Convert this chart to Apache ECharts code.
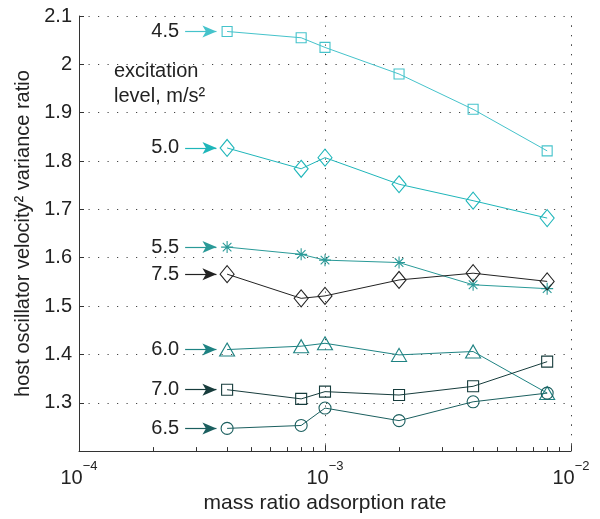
<!DOCTYPE html>
<html>
<head>
<meta charset="utf-8">
<script src="https://cdn.jsdelivr.net/npm/echarts@6/dist/echarts.min.js"></script>
<style>html,body{margin:0;padding:0;background:#fff}#c{width:600px;height:519px}</style>
</head>
<body>
<div id="c"></div>
<script>
// ---- data ----
const xValues = [4e-4, 8e-4, 1e-3, 2e-3, 4e-3, 8e-3];
const lvl45 = [2.068, 2.055, 2.035, 1.980, 1.907, 1.821];
const lvl50 = [1.827, 1.784, 1.807, 1.752, 1.718, 1.682];
const lvl55 = [1.622, 1.607, 1.595, 1.590, 1.544, 1.536];
const lvl60 = [1.410, 1.417, 1.423, 1.399, 1.406, 1.320];
const lvl65 = [1.247, 1.253, 1.289, 1.263, 1.302, 1.320];
const lvl70 = [1.327, 1.308, 1.323, 1.316, 1.334, 1.385];
const lvl75 = [1.566, 1.516, 1.521, 1.554, 1.568, 1.551];
const levelNames = ['4.5', '5.0', '5.5', '6.0', '6.5', '7.0', '7.5'];
const yMin = 1.2, yMax = 2.1, yStep = 0.1;
const xMin = 1e-4, xMax = 1e-2;

const FONT = '"Liberation Sans", Arial, Helvetica, sans-serif';
const TXT = '#222';
const asterisk = 'path://M0,-1L0,1M-1,0L1,0M-0.72,-0.72L0.72,0.72M-0.72,0.72L0.72,-0.72';

const styles = [
  {v: lvl45, color: '#45c3cb', symbol: 'rect', size: 10},
  {v: lvl50, color: '#1fb6ba', symbol: 'diamond', size: [14, 17]},
  {v: lvl55, color: '#2a9a98', symbol: asterisk, size: 12},
  {v: lvl60, color: '#1e8282', symbol: 'triangle', size: [15, 13]},
  {v: lvl65, color: '#1b5f5f', symbol: 'circle', size: 12},
  {v: lvl70, color: '#173c3c', symbol: 'rect', size: 11},
  {v: lvl75, color: '#222222', symbol: 'diamond', size: [14, 17]}
];

const arrowFrom = 2.7e-4, arrowTo = 3.62e-4;

// minor tick positions for the log axis (log10 space)
const minorTicks = [];
for (let d = -4; d < -2; d++) for (let k = 2; k <= 9; k++) minorTicks.push(d + Math.log10(k));

const series = styles.map((s, i) => ({
  type: 'line',
  name: levelNames[i],
  xAxisIndex: 0,
  data: xValues.map((x, j) => [x, s.v[j]]),
  symbol: s.symbol,
  symbolSize: s.size,
  showAllSymbol: true,
  lineStyle: {color: s.color, width: 1},
  itemStyle: {color: 'transparent', borderColor: s.color, borderWidth: 1.1},
  emphasis: {disabled: true},
  animation: false,
  markLine: {
    silent: true,
    animation: false,
    symbol: ['none', 'arrow'],
    symbolSize: [9, 14],
    lineStyle: {color: s.color, width: 1.2, type: 'solid'},
    label: {show: true, position: 'start', distance: 6, formatter: levelNames[i],
            color: TXT, fontSize: 20, fontFamily: FONT},
    data: [[{coord: [arrowFrom, s.v[0]]}, {coord: [arrowTo, s.v[0]]}]]
  }
}));

const chart = echarts.init(document.getElementById('c'), null, {renderer: 'canvas'});
chart.setOption({
  backgroundColor: '#fff',
  animation: false,
  grid: {left: 79, right: 29, top: 16, bottom: 64, containLabel: false},
  xAxis: [{
    type: 'log', logBase: 10, min: xMin, max: xMax,
    name: 'mass ratio adsorption rate', nameLocation: 'middle', nameGap: 39,
    nameTextStyle: {color: TXT, fontSize: 21, fontFamily: FONT},
    axisLine: {show: true, lineStyle: {color: '#333', width: 1}},
    axisTick: {show: true, inside: true, length: 6, lineStyle: {color: '#333'}},
    axisLabel: {
      color: TXT, margin: 9,
      formatter: v => '{b|10}{s|\u2212' + Math.abs(Math.round(Math.log10(v))) + '}',
      rich: {
        b: {fontSize: 20, fontFamily: FONT, color: TXT, lineHeight: 28, verticalAlign: 'bottom'},
        s: {fontSize: 13, fontFamily: FONT, color: TXT, verticalAlign: 'top', lineHeight: 15}
      }
    },
    splitLine: {show: true, lineStyle: {color: '#444', type: [1.2, 8.3], width: 1}}
  }, {
    type: 'value', min: -4, max: -2, position: 'bottom',
    axisLine: {show: false},
    axisLabel: {show: false},
    splitLine: {show: false},
    axisTick: {show: true, inside: true, length: 4, customValues: minorTicks, lineStyle: {color: '#333'}}
  }],
  yAxis: {
    type: 'value', min: yMin, max: yMax, interval: yStep,
    name: 'host oscillator velocity\u00B2 variance ratio', nameLocation: 'middle', nameGap: 42,
    nameTextStyle: {color: TXT, fontSize: 20, fontFamily: FONT},
    axisLine: {show: true, lineStyle: {color: '#333', width: 1}},
    axisTick: {show: true, inside: true, length: 5, lineStyle: {color: '#333'}},
    axisLabel: {
      color: TXT, fontSize: 20, fontFamily: FONT, margin: 7,
      formatter: v => (Math.abs(v - yMin) < 1e-6 ? '' : String(parseFloat(v.toFixed(1))))
    },
    splitLine: {show: true, lineStyle: {color: '#444', type: [1.2, 8.3], width: 1}}
  },
  graphic: [{
    type: 'text', left: 114, top: 59, silent: true,
    style: {text: 'excitation\nlevel, m/s\u00B2', fill: TXT, fontSize: 20, fontFamily: FONT, lineHeight: 25}
  }],
  series: series
});
</script>
</body>
</html>
